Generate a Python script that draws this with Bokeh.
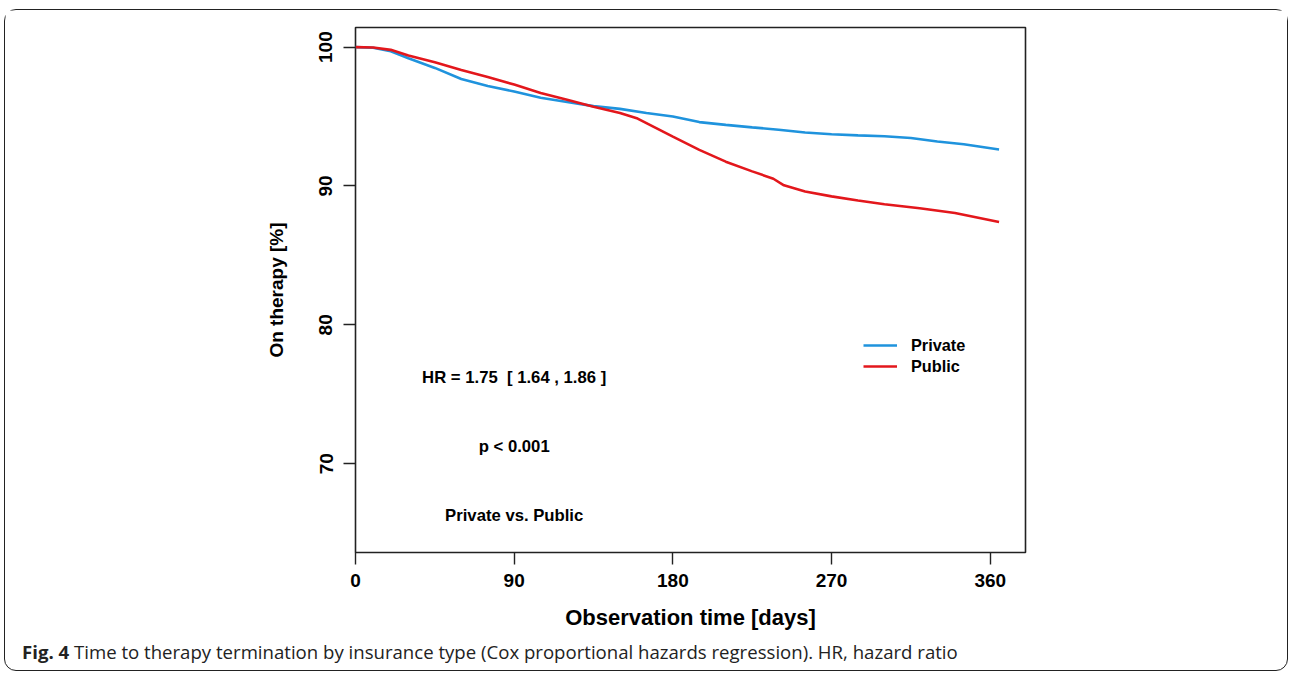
from bokeh.plotting import figure
from bokeh.layouts import column
from bokeh.models import (Range1d, FixedTicker, Label, Legend, LegendItem, Div)
from bokeh.embed import file_html
from bokeh.resources import INLINE

# ---- data ----
days = [0, 10, 20, 30, 45, 60, 75, 90, 105, 120, 135, 150, 165, 180, 195, 210,
        225, 240, 255, 270, 285, 300, 315, 330, 345, 365]
private = [100.0, 99.95, 99.7, 99.2, 98.5, 97.7, 97.2, 96.8, 96.35, 96.05, 95.75,
           95.55, 95.25, 95.0, 94.6, 94.4, 94.22, 94.05, 93.85, 93.72, 93.64,
           93.58, 93.45, 93.2, 93.0, 92.63]

days_pub = [0, 10, 20, 30, 45, 60, 75, 90, 105, 120, 135, 150, 160, 170, 180, 195,
            210, 225, 237, 243, 255, 270, 285, 300, 320, 340, 365]
public = [100.0, 99.97, 99.8, 99.4, 98.9, 98.35, 97.85, 97.3, 96.7, 96.2, 95.7,
          95.25, 94.85, 94.2, 93.55, 92.6, 91.75, 91.05, 90.52, 90.05, 89.6,
          89.25, 88.95, 88.68, 88.4, 88.05, 87.41]

x_ticks = [0, 90, 180, 270, 360]
y_ticks = [70, 80, 90, 100]
series_names = ["Private", "Public"]
annot_x = 90
hr_text = "HR = 1.75 \u00a0[ 1.64 , 1.86 ]"
p_text = "p < 0.001"
cmp_text = "Private vs. Public"
caption_bold = "Fig. 4"
caption_rest = ("Time to therapy termination by insurance type (Cox proportional "
                "hazards regression). HR, hazard ratio")

FONT = "Liberation Sans"
BLUE = "#1f93dd"
RED = "#e3171c"

CW = 1282          # content width inside the outer border
H_MAIN, H_CAP = 624, 36

p = figure(width=CW, height=H_MAIN, output_backend="svg", toolbar_location=None,
           x_range=Range1d(0, 380), y_range=Range1d(63.61, 101.41))
p.min_border_left = 350
p.min_border_right = 262
p.min_border_top = 17
p.min_border_bottom = 82
p.background_fill_color = "white"
p.border_fill_color = "white"
p.outline_line_color = "#222222"
p.outline_line_width = 1.6
p.xgrid.visible = False
p.ygrid.visible = False

r1 = p.line(days, private, line_color=BLUE, line_width=2.6)
r2 = p.line(days_pub, public, line_color=RED, line_width=2.6)

for ax in (p.xaxis[0], p.yaxis[0]):
    ax.axis_line_color = None
    ax.major_tick_line_color = "#222222"
    ax.major_tick_line_width = 1.4
    ax.major_tick_out = 12
    ax.major_tick_in = 0
    ax.minor_tick_line_color = None
    ax.major_label_text_font = FONT
    ax.major_label_text_font_style = "bold"
    ax.major_label_text_font_size = "19px"
    ax.major_label_text_color = "black"
    ax.axis_label_text_font = FONT
    ax.axis_label_text_font_style = "bold"
    ax.axis_label_text_color = "black"

p.xaxis[0].ticker = FixedTicker(ticks=x_ticks)
p.yaxis[0].ticker = FixedTicker(ticks=y_ticks)
p.xaxis[0].axis_label = "Observation time [days]"
p.xaxis[0].axis_label_text_font_size = "22px"
p.xaxis[0].major_label_standoff = 9
p.xaxis[0].axis_label_standoff = 15
p.yaxis[0].axis_label = "On therapy [%]"
p.yaxis[0].axis_label_text_font_size = "19px"
p.yaxis[0].major_label_orientation = "vertical"
p.yaxis[0].major_label_standoff = 11
p.yaxis[0].axis_label_standoff = 30

legend = Legend(items=[LegendItem(label=series_names[0], renderers=[r1]),
                       LegendItem(label=series_names[1], renderers=[r2])],
                location=(508, 176), orientation="vertical")
legend.border_line_color = None
legend.background_fill_alpha = 0
legend.padding = 0
legend.margin = 0
legend.spacing = 1
legend.glyph_width = 34
legend.glyph_height = 20
legend.label_height = 20
legend.label_standoff = 14
legend.label_text_font = FONT
legend.label_text_font_style = "bold"
legend.label_text_font_size = "16.3px"
legend.label_text_color = "black"
legend.label_text_baseline = "middle"
p.add_layout(legend, "center")

for txt, yv in ((hr_text, 76.2), (p_text, 71.26), (cmp_text, 66.3)):
    p.add_layout(Label(x=annot_x, y=yv, text=txt, text_align="center",
                       text_baseline="middle", text_font=FONT,
                       text_font_style="bold", text_font_size="16.7px",
                       text_color="black"))

# caption strip below the chart
cap = Div(text=f"<b>{caption_bold}</b>&nbsp;{caption_rest}", width=CW, height=H_CAP,
          styles={"font-family": "'Open Sans'", "font-size": "18.6px",
                  "line-height": "35px", "color": "#222222",
                  "padding-left": "17px", "white-space": "nowrap",
                  "box-sizing": "border-box", "margin": "0"})

page = column(p, cap, spacing=0, margin=(9, 0, 0, 4),
              styles={"border": "1.5px solid #222222", "border-radius": "12px",
                      "background": "white"})

open("out.html", "w").write(file_html(page, INLINE))
